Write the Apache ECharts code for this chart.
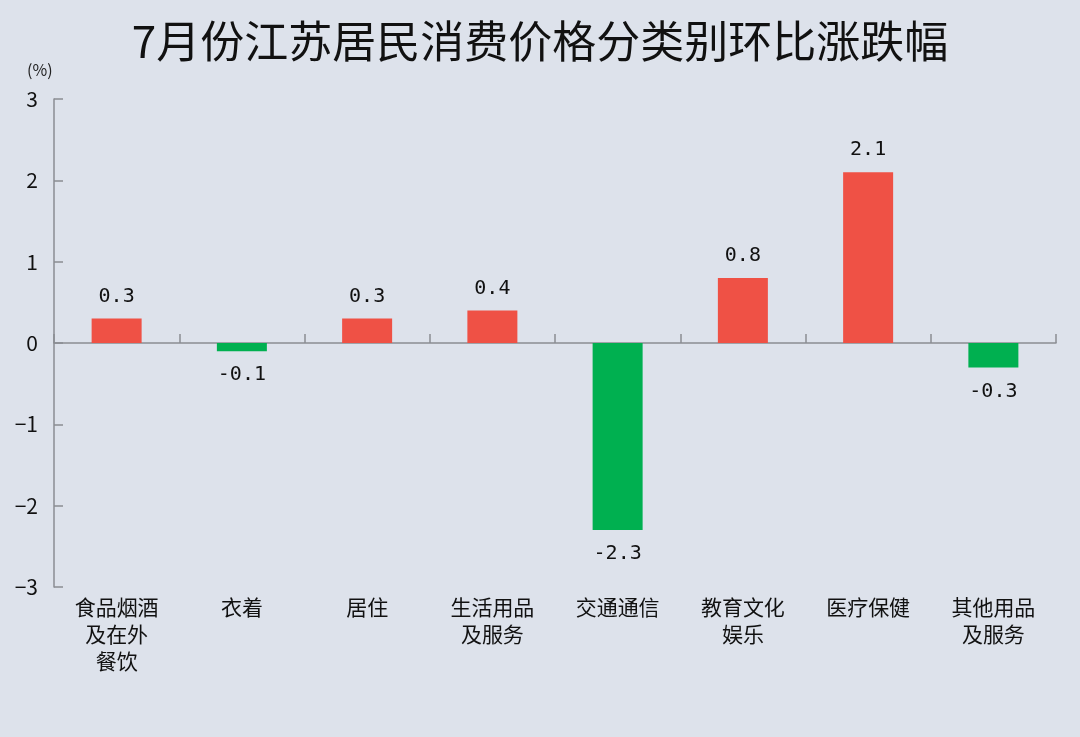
<!DOCTYPE html>
<html>
<head>
<meta charset="utf-8">
<script src="https://cdn.jsdelivr.net/npm/echarts@6/dist/echarts.min.js"></script>
<style>
  html, body { margin: 0; padding: 0; background: #dde2eb; }
  #chart { width: 1080px; height: 737px; }
</style>
</head>
<body>
<div id="chart"></div>
<script>
    "use strict";

    var categories = ['食品烟酒\n及在外\n餐饮', '衣着', '居住', '生活用品\n及服务', '交通通信', '教育文化\n娱乐', '医疗保健', '其他用品\n及服务'];
    var values = [0.3, -0.1, 0.3, 0.4, -2.3, 0.8, 2.1, -0.3];
    var yTicks = [-3, -2, -1, 0, 1, 2, 3];

    var RED = '#ef5145';
    var GREEN = '#00b050';
    var FONT = '"Noto Sans CJK SC", "Noto Sans", sans-serif';
    var MONO = '"DejaVu Sans Mono", "Liberation Mono", monospace';

    // 正负值分别着色，标签放在柱子外侧
    var barData = values.map(function (v) {
        return {
            value: v,
            itemStyle: { color: v >= 0 ? RED : GREEN },
            label: { position: v >= 0 ? 'top' : 'bottom', distance: v >= 0 ? 12 : 14 }
        };
    });

    var chart = echarts.init(document.getElementById('chart'));
    chart.setOption({
        backgroundColor: '#dde2eb',
        animation: false,
        title: {
            text: '7月份江苏居民消费价格分类别环比涨跌幅',
            left: 'center',
            top: 14,
            textStyle: { fontFamily: FONT, fontSize: 44, fontWeight: 'normal', color: '#111' }
        },
        graphic: [{
            type: 'text',
            left: 27,
            top: 62,
            style: { text: '(%)', fontFamily: FONT, fontSize: 16, fill: '#222' }
        }],
        grid: { left: 54, right: 24, top: 99, bottom: 150, containLabel: false },
        xAxis: [{
            type: 'category',
            data: categories,
            position: 'bottom',
            axisLine: { show: false, onZero: false },
            axisTick: { show: false },
            axisLabel: {
                interval: 0,
                margin: 7,
                fontFamily: FONT,
                fontSize: 21,
                lineHeight: 27,
                color: '#111'
            }
        }, {
            type: 'category',
            data: categories,
            position: 'bottom',
            axisLine: { onZero: true, lineStyle: { color: '#8a8d93', width: 1.5 } },
            axisTick: { show: true, inside: true, length: 9, interval: 0, lineStyle: { color: '#8a8d93', width: 1.5 } },
            axisLabel: { show: false }
        }],
        yAxis: {
            type: 'value',
            min: yTicks[0],
            max: yTicks[yTicks.length - 1],
            interval: 1,
            axisLine: { show: true, lineStyle: { color: '#8a8d93', width: 1.5 } },
            axisTick: { show: true, inside: true, length: 9, lineStyle: { color: '#8a8d93', width: 1.5 } },
            splitLine: { show: false },
            axisLabel: {
                margin: 16,
                fontFamily: FONT,
                fontSize: 21,
                color: '#111',
                formatter: function (v) { return v < 0 ? '−' + Math.abs(v) : String(v); }
            }
        },
        series: [{
            type: 'bar',
            xAxisIndex: 0,
            data: barData,
            barWidth: 50,
            label: {
                show: true,
                fontFamily: MONO,
                fontSize: 20,
                color: '#111',
                formatter: function (p) { return p.value.toFixed(1); }
            }
        }]
    });
</script>
</body>
</html>
